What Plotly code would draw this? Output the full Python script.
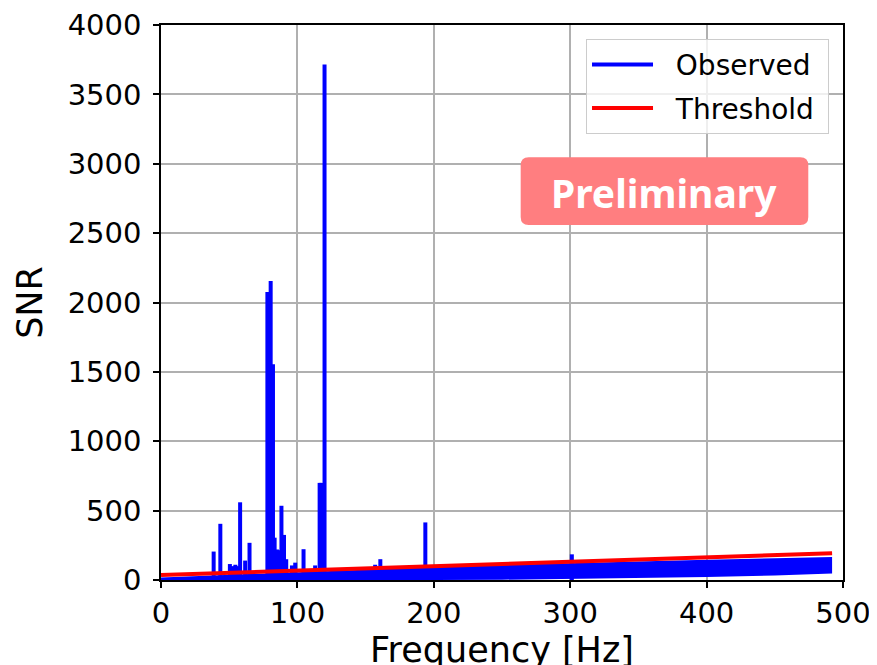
import plotly.graph_objects as go

# ---- data ----
spike_freq = [38.6, 43.5, 50.5, 52.5, 54.5, 56.0, 58.0, 61.7, 64.9, 78.0, 80.4, 82.1, 83.3,
              85.0, 86.5, 88.3, 90.2, 91.8, 96.0, 98.4, 104.5, 113.0, 116.3, 117.6, 119.9,
              157.0, 160.8, 193.8, 301.2]
spike_snr = [205, 405, 115, 100, 110, 100, 560, 140, 268, 2075, 2155, 1555, 305,
             220, 215, 535, 325, 150, 105, 125, 222, 105, 700, 700, 3715,
             110, 150, 415, 185]

band_freq = [0, 50, 100, 150, 200, 250, 300, 350, 400, 450, 492]
band_upper = [18, 38, 58, 76, 94, 108, 122, 134, 146, 156, 166]
band_lower = [0, 0, 0, 0, 0, 2, 8, 14, 22, 32, 46]

thr_freq = [0, 492]
thr_snr = [36, 193]

x_ticks = [0, 100, 200, 300, 400, 500]
y_ticks = [0, 500, 1000, 1500, 2000, 2500, 3000, 3500, 4000]

BLUE = "#0000ff"
RED = "#ff0000"
FONT = "DejaVu Sans"
NB = "\u00a0"

# build spike segments
seg_x, seg_y = [], []
for f, s in zip(spike_freq, spike_snr):
    seg_x += [f, f, None]
    seg_y += [0, s, None]

fig = go.Figure()

# noise band of the observed spectrum
fig.add_trace(go.Scatter(
    x=band_freq + band_freq[::-1],
    y=band_upper + band_lower[::-1],
    fill="toself", fillcolor=BLUE, mode="lines",
    line=dict(width=0, color=BLUE), showlegend=False, hoverinfo="skip",
))
fig.add_trace(go.Scatter(
    x=seg_x, y=seg_y, mode="lines", name=NB * 2 + "Observed" + NB, legendgroup="obs",
    line=dict(color=BLUE, width=4),
))
fig.add_trace(go.Scatter(
    x=thr_freq, y=thr_snr, mode="lines", name=NB * 2 + "Threshold" + NB, legendgroup="thr",
    line=dict(color=RED, width=4),
))

# rounded box for "Preliminary"
x0, x1, y0, y1 = 0.5274, 0.9491, 0.6396, 0.7616
rx, ry = 8 / 682, 8 / 555
path = (f"M {x0+rx},{y1} L {x1-rx},{y1} Q {x1},{y1} {x1},{y1-ry} "
        f"L {x1},{y0+ry} Q {x1},{y0} {x1-rx},{y0} L {x0+rx},{y0} "
        f"Q {x0},{y0} {x0},{y0+ry} L {x0},{y1-ry} Q {x0},{y1} {x0+rx},{y1} Z")
fig.add_shape(type="path", path=path, xref="paper", yref="paper",
              fillcolor="rgb(255,126,128)", line=dict(width=0), layer="above")
fig.add_annotation(x=(x0 + x1) / 2, y=0.698, xref="paper", yref="paper",
                   xanchor="center", yanchor="middle",
                   text="<b>Preliminary</b>", showarrow=False,
                   font=dict(family="Noto Sans", size=39, color="white"))

axis_common = dict(
    showline=True, linecolor="black", linewidth=1.5, mirror=True,
    ticks="outside", ticklen=6, tickwidth=1.5, tickcolor="black",
    showgrid=True, gridcolor="#b0b0b0", gridwidth=1.5, automargin=False,
    zeroline=False, tickfont=dict(family=FONT, size=29, color="black"),
)

fig.update_xaxes(range=[0, 500], tickvals=x_ticks,
                 title=dict(text="Frequency [Hz]", font=dict(family=FONT, size=35, color="black"), standoff=3),
                 **axis_common)
fig.update_yaxes(range=[0, 4000], tickvals=y_ticks, ticklabelstandoff=6,
                 title=dict(text="SNR", font=dict(family=FONT, size=35, color="black"), standoff=14),
                 **axis_common)

# the page body adds an 8 px offset, margins compensate
fig.update_layout(
    width=877, height=665,
    margin=dict(l=153, r=42, t=17, b=93),
    plot_bgcolor="white", paper_bgcolor="white",
    legend=dict(x=0.9795, y=0.975, xanchor="right", yanchor="top",
                bgcolor="rgba(255,255,255,0.8)", bordercolor="#cccccc", borderwidth=1,
                itemwidth=61, tracegroupgap=4,
                font=dict(family=FONT, size=28, color="black")),
    font=dict(family=FONT),
)

fig.write_html("out.html")
